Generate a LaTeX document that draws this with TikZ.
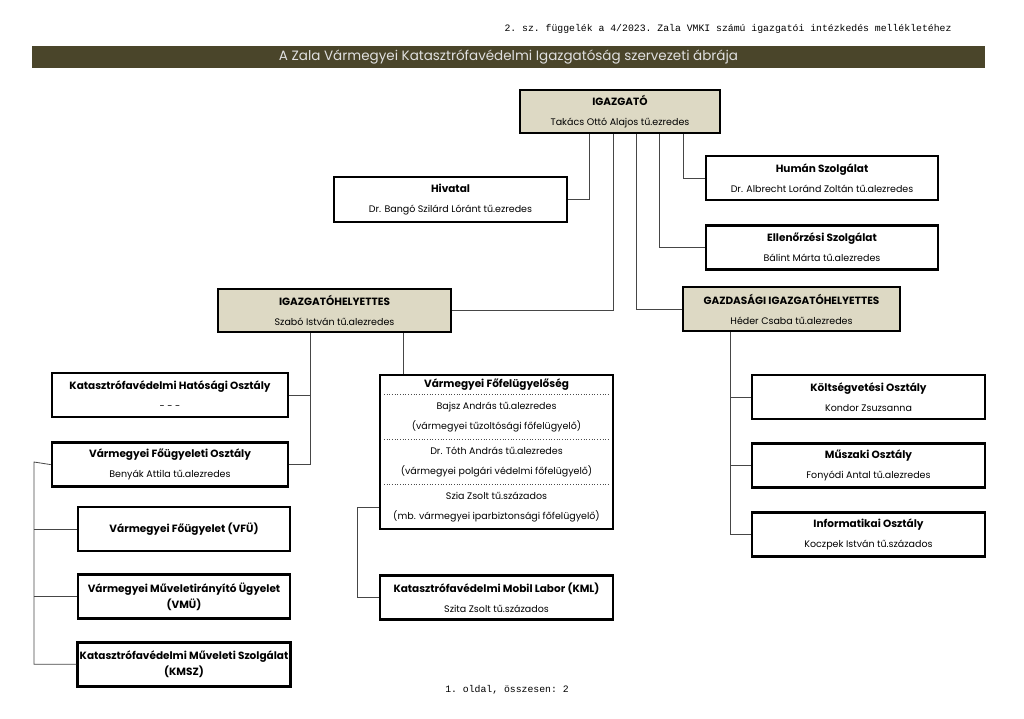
\documentclass[tikz,border=0pt]{standalone}
\usepackage{fontspec}
\setmainfont{Poppins}
\setmonofont{Liberation Mono}
\usepackage{tikz}
\usetikzlibrary{positioning}
\definecolor{olivsotet}{RGB}{74,69,42}
\definecolor{drapp}{RGB}{221,217,196}
\definecolor{vonalszin}{RGB}{70,70,70}
\newcommand{\cim}[1]{{\bfseries\fontsize{10.5}{20}\selectfont #1}}
\tikzset{
  doboz/.style={rectangle, draw=black, line width=2.6pt, fill=white,
    minimum width=233pt, minimum height=44pt, align=center, inner sep=2pt,
    font=\fontsize{9.5}{20}\selectfont},
  vezeto/.style={doboz, fill=drapp},
  sor/.style={rectangle, minimum width=233pt, minimum height=45pt,
    align=center, inner sep=0pt, font=\fontsize{9.5}{20}\selectfont},
  vonal/.style={line width=0.8pt, draw=vonalszin},
  pontvonal/.style={dotted, line width=0.7pt, draw=black!70},
  iras/.style={font=\fontsize{9.8}{12}\selectfont\ttfamily}
}
\begin{document}
\begin{tikzpicture}[x=1pt, y=-1pt]
  \useasboundingbox (0,0) rectangle (1024,719);
  % fejlec es cimsor
  \node[iras, anchor=east] (fejlec) at (955,29)
    {2. sz. függelék a 4/2023. Zala VMKI számú igazgatói intézkedés mellékletéhez};
  \node[fill=olivsotet, minimum width=953pt, minimum height=22pt, inner sep=0pt,
    text=white!88!black, font=\fontsize{13.5}{15}\selectfont] (cimsor) at (508.5,57)
    {A Zala Vármegyei Katasztrófavédelmi Igazgatóság szervezeti ábrája};

  % vezetes
  \node[vezeto, minimum width=200pt, minimum height=43pt] (igazgato) at (620,111.5)
    {\cim{IGAZGATÓ}\\Takács Ottó Alajos tű.ezredes};
  \node[doboz, minimum height=45pt] (hivatal) at (450.5,199.5)
    {\cim{Hivatal}\\Dr. Bangó Szilárd Lóránt tű.ezredes};
  \node[doboz, minimum width=232pt] (human) at (822,178)
    {\cim{Humán Szolgálat}\\Dr. Albrecht Loránd Zoltán tű.alezredes};
  \node[doboz, minimum width=232pt, below=23pt of human] (ellenorzesi)
    {\cim{Ellenőrzési Szolgálat}\\Bálint Márta tű.alezredes};
  \node[vezeto, minimum height=43pt] (helyettes) at (334.5,310.5)
    {\cim{IGAZGATÓHELYETTES}\\Szabó István tű.alezredes};
  \node[vezeto, minimum width=217pt] (gazdasagi) at (791.5,309)
    {\cim{GAZDASÁGI IGAZGATÓHELYETTES}\\Héder Csaba tű.alezredes};

  % igazgatohelyettes alatt
  \node[doboz, minimum width=236pt] (hatosagi) at (170,395)
    {\cim{Katasztrófavédelmi Hatósági Osztály}\\- - -};
  \node[doboz, minimum width=236pt, below=23pt of hatosagi] (fougyeleti)
    {\cim{Vármegyei Főügyeleti Osztály}\\Benyák Attila tű.alezredes};
  \node[doboz, minimum width=212pt, font=\bfseries\fontsize{10.5}{16}\selectfont] (vfu) at (184,529)
    {Vármegyei Főügyelet (VFÜ)};
  \node[doboz, minimum width=212pt, font=\bfseries\fontsize{10.5}{16}\selectfont,
    below=21pt of vfu] (vmu) {Vármegyei Műveletirányító Ügyelet\\(VMÜ)};
  \node[doboz, minimum width=212pt, font=\bfseries\fontsize{10.5}{16}\selectfont,
    below=21pt of vmu] (kmsz) {Katasztrófavédelmi Műveleti Szolgálat\\(KMSZ)};

  % fofelugyeloseg
  \node[doboz, minimum height=154pt] (ffo) at (496.5,452) {};
  \node[sor, minimum height=20pt] (ffoc) at (496.5,385) {\cim{Vármegyei Főfelügyelőség}};
  \node[sor] (ffo1) at (496.5,417.5)
    {Bajsz András tű.alezredes\\(vármegyei tűzoltósági főfelügyelő)};
  \node[sor] (ffo2) at (496.5,462.5)
    {Dr. Tóth András tű.alezredes\\(vármegyei polgári védelmi főfelügyelő)};
  \node[sor, minimum height=44pt] (ffo3) at (496.5,507)
    {Szia Zsolt tű.százados\\(mb. vármegyei iparbiztonsági főfelügyelő)};
  \draw[pontvonal] ([xshift=4pt]ffo1.north west) -- ([xshift=-4pt]ffo1.north east);
  \draw[pontvonal] ([xshift=4pt]ffo2.north west) -- ([xshift=-4pt]ffo2.north east);
  \draw[pontvonal] ([xshift=4pt]ffo3.north west) -- ([xshift=-4pt]ffo3.north east);
  \node[doboz, below=44pt of ffo] (kml)
    {\cim{Katasztrófavédelmi Mobil Labor (KML)}\\Szita Zsolt tű.százados};

  % gazdasagi igazgatohelyettes alatt
  \node[doboz] (koltseg) at (868.5,397)
    {\cim{Költségvetési Osztály}\\Kondor Zsuzsanna};
  \node[doboz, below=22pt of koltseg] (muszaki)
    {\cim{Műszaki Osztály}\\Fonyódi Antal tű.alezredes};
  \node[doboz, below=22pt of muszaki] (informatikai)
    {\cim{Informatikai Osztály}\\Koczpek István tű.százados};

  \node[iras] (lablec) at (507,690) {1. oldal, összesen: 2};

  % kapcsolatok
  \draw[vonal] ([xshift=-31pt]igazgato.south) |- (hivatal.east);
  \draw[vonal] ([xshift=-7pt]igazgato.south) |- (helyettes.east);
  \draw[vonal] ([xshift=16pt]igazgato.south) |- (gazdasagi.west);
  \draw[vonal] ([xshift=39pt]igazgato.south) |- (ellenorzesi.west);
  \draw[vonal] ([xshift=63pt]igazgato.south) |- (human.west);

  \coordinate (hl1) at ([xshift=-24.5pt]helyettes.south);
  \coordinate (hl2) at ([xshift=68.5pt]helyettes.south);
  \draw[vonal] (hl1) |- (hatosagi.east);
  \draw[vonal] (hl1) |- (fougyeleti.east);
  \draw[vonal] (hl2) -- (hl2 |- ffo.north);

  \coordinate (bal) at (34,462);
  \draw[vonal] (fougyeleti.west) -- (bal) |- (kmsz.west);
  \draw[vonal] (bal |- vfu.west) -- (vfu.west);
  \draw[vonal] (bal |- vmu.west) -- (vmu.west);

  \coordinate (kmlt) at (357,507);
  \draw[vonal] (ffo.west |- kmlt) -- (kmlt) |- (kml.west);

  \coordinate (gt) at ([xshift=-61.5pt]gazdasagi.south);
  \draw[vonal] (gt) |- (informatikai.west);
  \draw[vonal] (gt |- koltseg.west) -- (koltseg.west);
  \draw[vonal] (gt |- muszaki.west) -- (muszaki.west);
\end{tikzpicture}
\end{document}
